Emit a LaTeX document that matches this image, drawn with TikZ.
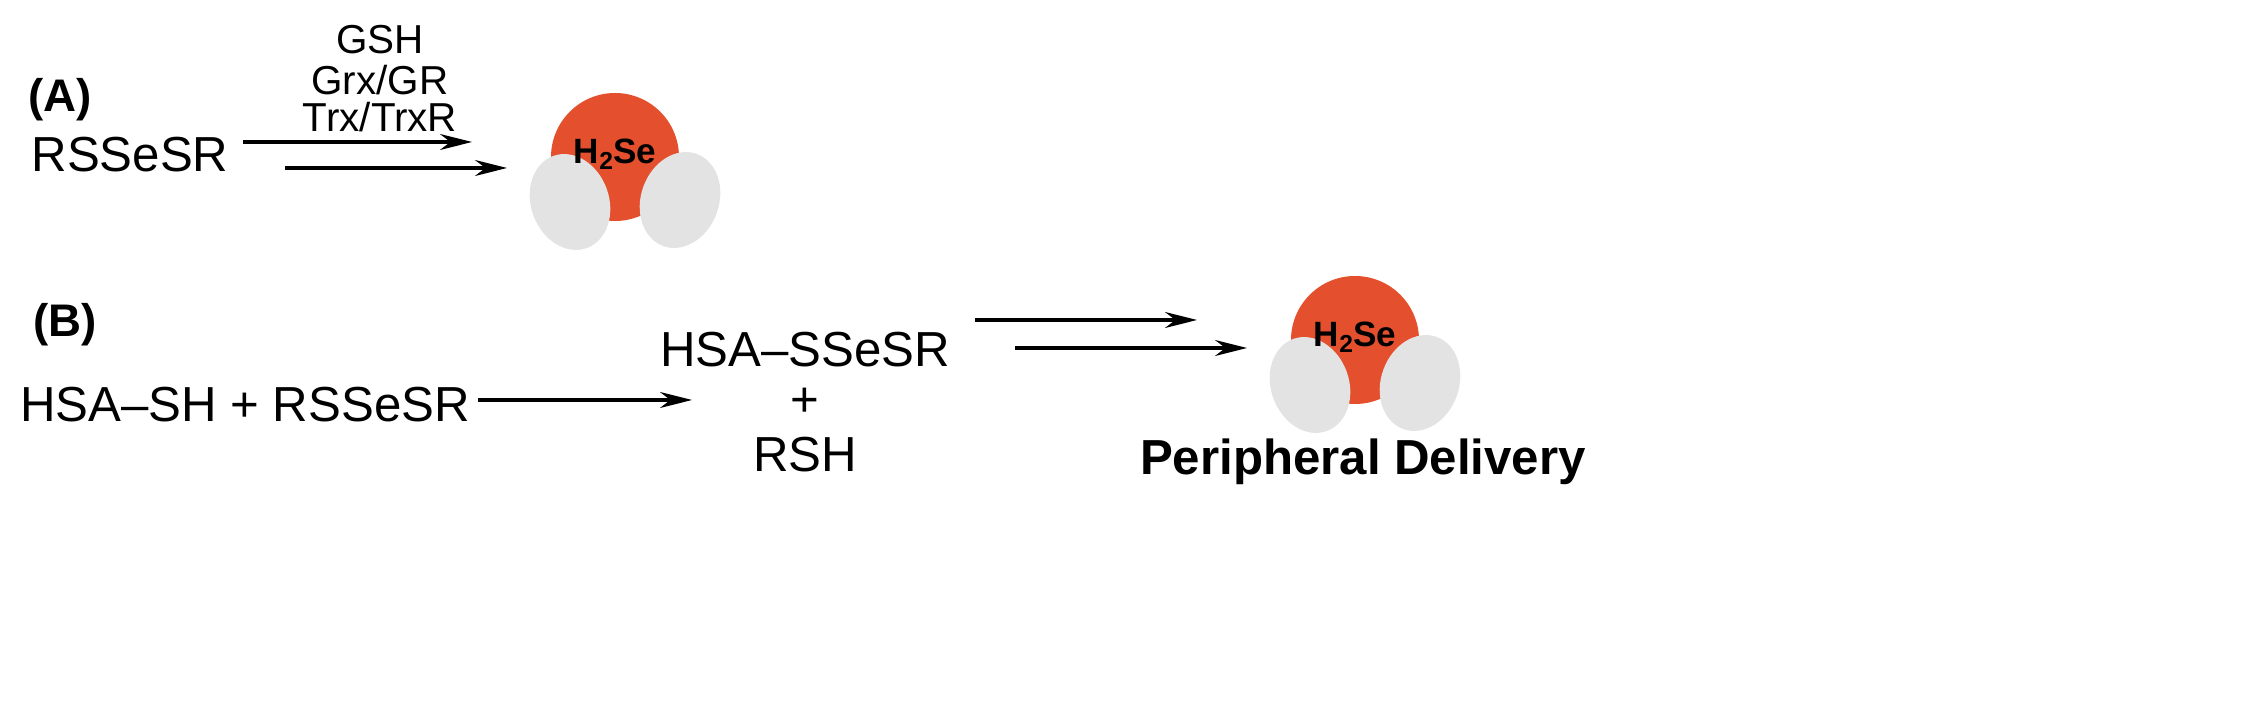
\documentclass[tikz,border=0pt]{standalone}
\usepackage{fontspec}
\setmainfont{Liberation Sans}
\usetikzlibrary{positioning,arrows.meta,shapes.geometric}
\definecolor{sered}{HTML}{E4502E}
\definecolor{hgray}{HTML}{E3E3E3}

\begin{document}
\begin{tikzpicture}[
    txt/.style={
        inner sep=0pt,
        font=\fontsize{14}{16}\selectfont,
        align=center
    },
    cond/.style={
        inner sep=0pt,
        font=\fontsize{11.5}{13}\selectfont,
        align=center
    },
    tag/.style={
        inner sep=0pt,
        font=\bfseries\fontsize{13}{15}\selectfont
    },
    rxn/.style={
        -{Stealth[length=3.2mm,width=1.6mm]},
        line width=0.9pt
    },
    hyd/.style={
        ellipse,
        fill=hgray,
        draw=none,
        minimum width=0.78cm,
        minimum height=0.98cm
    },
]
    \useasboundingbox (0,0) rectangle (22.63,7.19);

    % part A
    \node (tagA) [tag] at (0.6,6.19) {(A)};
    \node (donorA) [txt] at (1.3,5.64) {RSSeSR};
    \coordinate (a1s) at (2.43,5.77);
    \coordinate (a1e) at (4.72,5.77);
    \coordinate (a2s) at (2.85,5.51);
    \coordinate (a2e) at (5.07,5.51);
    \draw[rxn] (a1s) -- (a1e);
    \draw[rxn] (a2s) -- (a2e);
    \node (gsh) [cond] at (3.8,6.79) {GSH};
    \node (grx) [cond] at (3.8,6.39) {Grx/GR};
    \node (trx) [cond] at (3.8,6.02) {Trx/TrxR};

    % molecule A
    \fill[sered] (6.15,5.62) circle (0.64);
    \node (hA1) [hyd, rotate=20] at (5.70,5.17) {};
    \node (hA2) [hyd, rotate=-20] at (6.80,5.19) {};
    \node (h2seA) [tag, font=\bfseries\fontsize{10}{12}\selectfont] at (6.15,5.65) {H\raisebox{-0.3ex}{\scriptsize 2}Se};

    % part B
    \node (tagB) [tag] at (0.65,3.94) {(B)};
    \node (react) [txt] at (2.45,3.14) {HSA–SH + RSSeSR};
    \coordinate (b1s) at (4.78,3.19);
    \coordinate (b1e) at (6.92,3.19);
    \draw[rxn] (b1s) -- (b1e);
    \node (prod1) [txt] at (8.05,3.69) {HSA–SSeSR};
    \node (plus) [txt] at (8.05,3.17) {+};
    \node (prod2) [txt] at (8.05,2.64) {RSH};
    \coordinate (b2s) at (9.75,3.99);
    \coordinate (b2e) at (11.97,3.99);
    \coordinate (b3s) at (10.15,3.71);
    \coordinate (b3e) at (12.47,3.71);
    \draw[rxn] (b2s) -- (b2e);
    \draw[rxn] (b3s) -- (b3e);

    % molecule B
    \fill[sered] (13.55,3.79) circle (0.64);
    \node (hB1) [hyd, rotate=20] at (13.10,3.34) {};
    \node (hB2) [hyd, rotate=-20] at (14.20,3.36) {};
    \node (h2seB) [tag, font=\bfseries\fontsize{10}{12}\selectfont] at (13.55,3.82) {H\raisebox{-0.3ex}{\scriptsize 2}Se};
    \node (deliv) [tag, font=\bfseries\fontsize{14}{16}\selectfont] at (13.63,2.57) {Peripheral Delivery};
\end{tikzpicture}
\end{document}
